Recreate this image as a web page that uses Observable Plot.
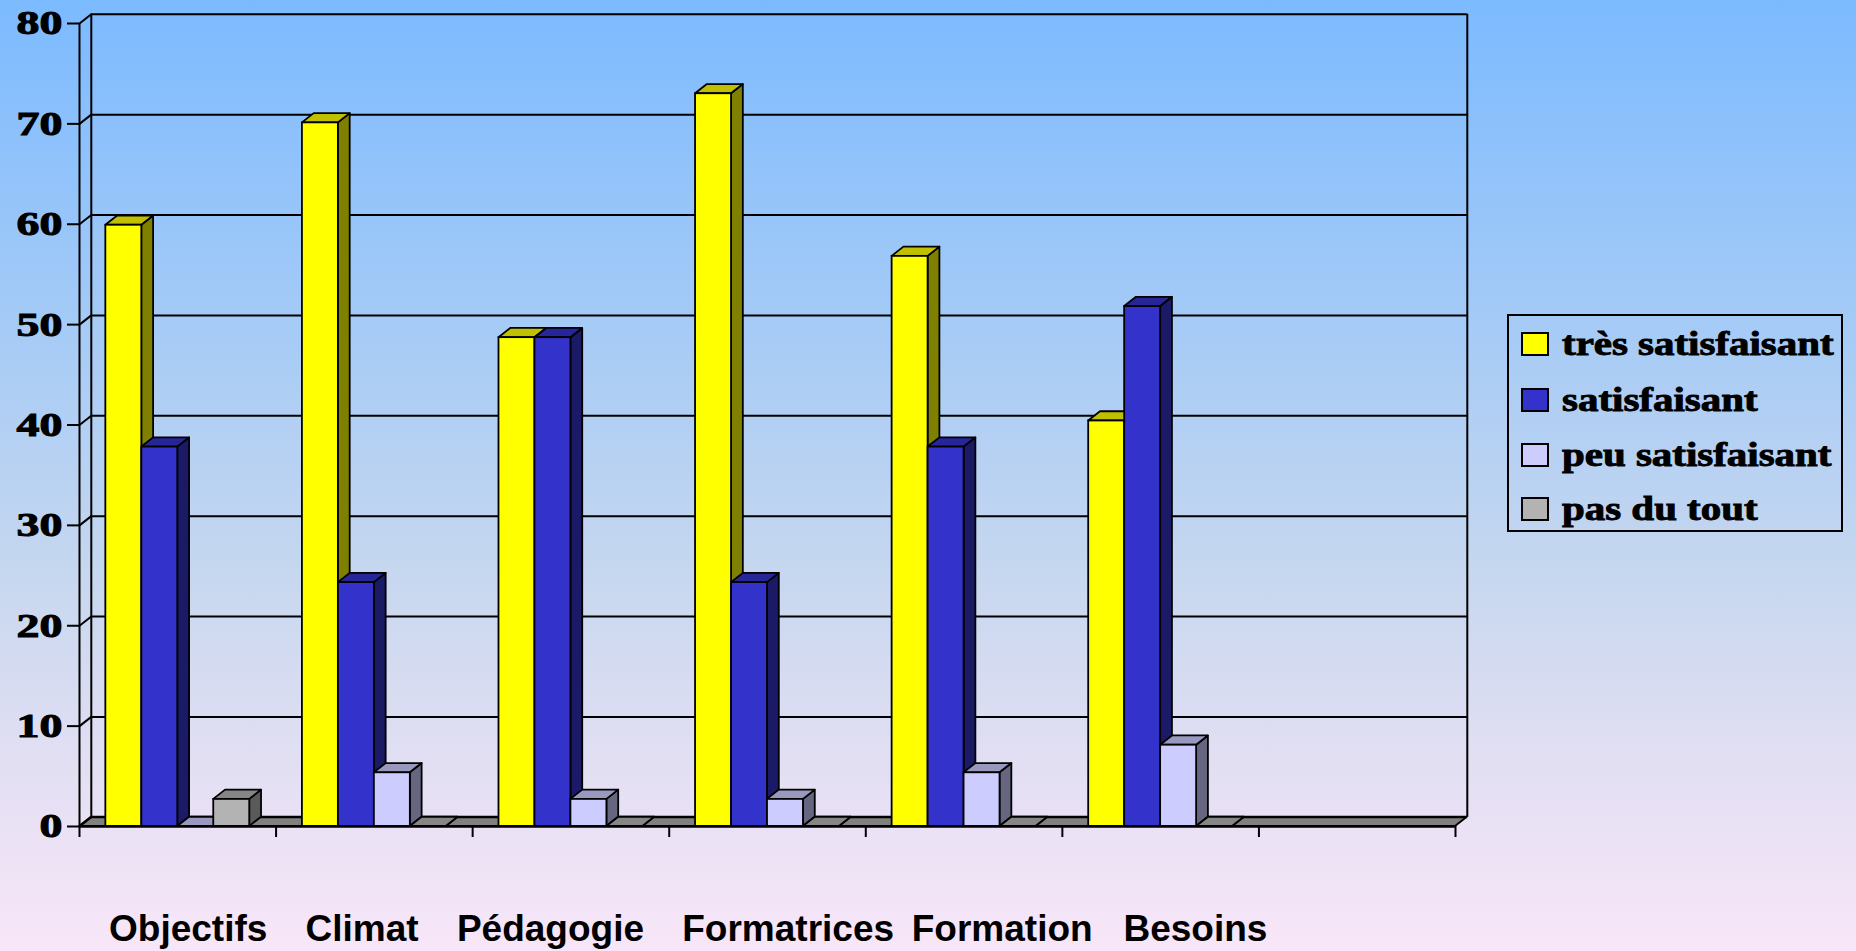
<!DOCTYPE html>
<html>
<head>
<meta charset="utf-8">
<script src="https://cdn.jsdelivr.net/npm/d3@7"></script>
<script src="https://cdn.jsdelivr.net/npm/@observablehq/plot@0.6"></script>
<style>
  html, body { margin: 0; padding: 0; }
  #wrap {
    position: relative; width: 1856px; height: 951px; overflow: hidden;
    background: linear-gradient(to bottom, #7cbaff 0%, #a6cbf6 35%, #c6d7ef 60%, #e2dff3 80%, #f8e6f8 100%);
  }
  #chart { position: absolute; left: 0; top: 0; }
  #legend {
    position: absolute; left: 1507px; top: 314px; width: 336px; height: 218px;
    box-sizing: border-box; border: 2px solid #000;
  }
  .item { position: absolute; left: 12px; height: 24px; white-space: nowrap; }
  .sw { position: absolute; left: 0; top: 0; width: 28px; height: 24px; box-sizing: border-box; border: 2px solid #000; }
  .lab {
    position: absolute; left: 41px; top: 50%; transform-origin: left center;
    transform: translateY(-50%) scaleX(1.24);
    font-family: "Liberation Serif", "DejaVu Serif", serif; font-weight: bold; font-size: 33px; line-height: 1; color: #000;
    -webkit-text-stroke: 0.9px #000;
  }
</style>
</head>
<body>
<div id="wrap">
  <div id="chart"></div>
  <div id="legend"></div>
</div>
<script>
// ---- data ----
const categories = ["Objectifs", "Climat", "Pédagogie", "Formatrices", "Formation", "Besoins"];
const slotCount = 7; // six categories + one empty slot on the axis
const seriesNames = ["très satisfaisant", "satisfaisant", "peu satisfaisant", "pas du tout"];
const tresSatisfaisant = [59.9, 70.1, 48.7, 73.0, 56.8, 40.4];
const satisfaisant     = [37.8, 24.3, 48.7, 24.3, 37.8, 51.8];
const peuSatisfaisant  = [0,    5.35, 2.7,  2.7,  5.35, 8.1];
const pasDuTout        = [2.7,  0,    0,    0,    0,    0];
const yTicks = [0, 10, 20, 30, 40, 50, 60, 70, 80];

const frontColors = ["#ffff00", "#3333cc", "#ccccff", "#b3b3b3"];
const topColors   = ["#c0c000", "#262699", "#9999c0", "#868686"];
const sideColors  = ["#808000", "#1a1a66", "#666680", "#5a5a5a"];

// spacing between the category names in the original's label line
const NB = "\u00A0", THIN = "\u2009";
const labelGaps = [NB + NB + NB + THIN, NB + NB + NB + THIN, NB + NB + NB + THIN, NB + THIN, NB + NB + NB];

// ---- layout ----
const W = 1856, H = 951;
const ML = 79, MR = 401, MT = 23, MB = 125;
const pxPerX = (W - ML - MR) / slotCount;
const pxPerY = (H - MT - MB) / 80;
const DX = 0.06, DY = 0.92;             // depth in data units
const dxPx = DX * pxPerX, dyPx = DY * pxPerY;
const barW = 0.183;
const pad = (1 - seriesNames.length * barW) / 2;

const seriesValues = [tresSatisfaisant, satisfaisant, peuSatisfaisant, pasDuTout];
const rows = [];
categories.forEach((c, ci) => {
  seriesValues.forEach((vals, si) => {
    const x0 = ci + pad + si * barW;
    rows.push({id: ci * 10 + si, ci, si, v: vals[ci], x0, x1: x0 + barW,
      front: frontColors[si], top: topColors[si], side: sideColors[si]});
  });
});
const sidePts = rows.flatMap(r => [
  {id: r.id, x: r.x1, y1: 0, y2: r.v, fill: r.side},
  {id: r.id, x: r.x1 + DX, y1: DY, y2: r.v + DY, fill: r.side}
]);
const topPts = rows.flatMap(r => [
  {id: r.id, y: r.v, x1: r.x0, x2: r.x1, fill: r.top},
  {id: r.id, y: r.v + DY, x1: r.x0 + DX, x2: r.x1 + DX, fill: r.top}
]);
const floorPts = [{y: 0, x1: 0, x2: slotCount}, {y: DY, x1: DX, x2: slotCount + DX}];
const labelLine = categories.reduce((s, c, i) => i === 0 ? c : s + labelGaps[i - 1] + c, "");

const SW = 1.8;
const chart = Plot.plot({
  width: W, height: H,
  marginLeft: ML, marginRight: MR, marginTop: MT, marginBottom: MB,
  x: {domain: [0, slotCount], axis: null},
  y: {domain: [0, 80], axis: null},
  color: {type: "identity"},
  style: {background: "transparent", overflow: "visible"},
  marks: [
    Plot.areaX(floorPts, {y: "y", x1: "x1", x2: "x2", fill: "#808080", stroke: "#000", strokeWidth: SW}),
    Plot.ruleY(yTicks, {dx: dxPx, dy: -dyPx, stroke: "#000", strokeWidth: 2}),
    Plot.ruleX([0, slotCount], {y1: 0, y2: 80, dx: dxPx, dy: -dyPx, stroke: "#000", strokeWidth: 2}),
    Plot.link(yTicks, {x1: () => 0, x2: () => DX, y1: d => d, y2: d => d + DY, stroke: "#000", strokeWidth: 2}),
    Plot.ruleX([0], {y1: 0, y2: 80, stroke: "#000", strokeWidth: 2}),
    Plot.areaY(sidePts, {x: "x", y1: "y1", y2: "y2", z: "id", fill: "fill", stroke: "#000", strokeWidth: SW, strokeLinejoin: "round"}),
    Plot.areaX(topPts, {y: "y", x1: "x1", x2: "x2", z: "id", fill: "fill", stroke: "#000", strokeWidth: SW, strokeLinejoin: "round"}),
    Plot.rect(rows, {x1: "x0", x2: "x1", y1: 0, y2: "v", fill: "front", stroke: "#000", strokeWidth: SW}),
    Plot.ruleY([0], {stroke: "#000", strokeWidth: 2.6}),
    Plot.axisY(yTicks, {tickSize: 12, tickPadding: 5, label: null, stroke: "#000", strokeWidth: 2,
      fontSize: 34, fontWeight: "bold", fontFamily: "Liberation Serif, DejaVu Serif, serif", fill: "#000"}),
    Plot.axisX(d3.range(0, slotCount + 1), {tickSize: 11, tickFormat: () => "", label: null, stroke: "#000", strokeWidth: 2}),
    Plot.text([labelLine], {x: () => categories.length / 2, y: () => 0, dx: 19, dy: 103, text: d => d,
      textAnchor: "middle", fontSize: 37, fontWeight: "bold", fontFamily: "Liberation Sans, Arial, sans-serif", fill: "#000"})
  ]
});
document.getElementById("chart").appendChild(chart);

// heavier, horizontally stretched serif tick labels, as in the original
chart.querySelectorAll('g[aria-label="y-axis tick label"] text').forEach(t => {
  t.setAttribute("stroke", "#000");
  t.setAttribute("stroke-width", "1");
  t.setAttribute("paint-order", "stroke");
  const tr = t.getAttribute("transform");
  if (tr) t.setAttribute("transform", tr + " scale(1.35,1)");
  else {
    const x = +t.getAttribute("x") || 0, y = +t.getAttribute("y") || 0;
    t.setAttribute("transform", `translate(${x},${y}) scale(1.35,1) translate(${-x},${-y})`);
  }
});

// legend
const legend = document.getElementById("legend");
const rowCenters = [30, 85.5, 141, 195];
seriesNames.forEach((name, i) => {
  const item = document.createElement("div");
  item.className = "item";
  item.style.top = (rowCenters[i] - 12 - 2) + "px";
  const sw = document.createElement("div");
  sw.className = "sw"; sw.style.background = frontColors[i];
  const lab = document.createElement("div");
  lab.className = "lab"; lab.textContent = name;
  item.appendChild(sw); item.appendChild(lab);
  legend.appendChild(item);
});
</script>
</body>
</html>
